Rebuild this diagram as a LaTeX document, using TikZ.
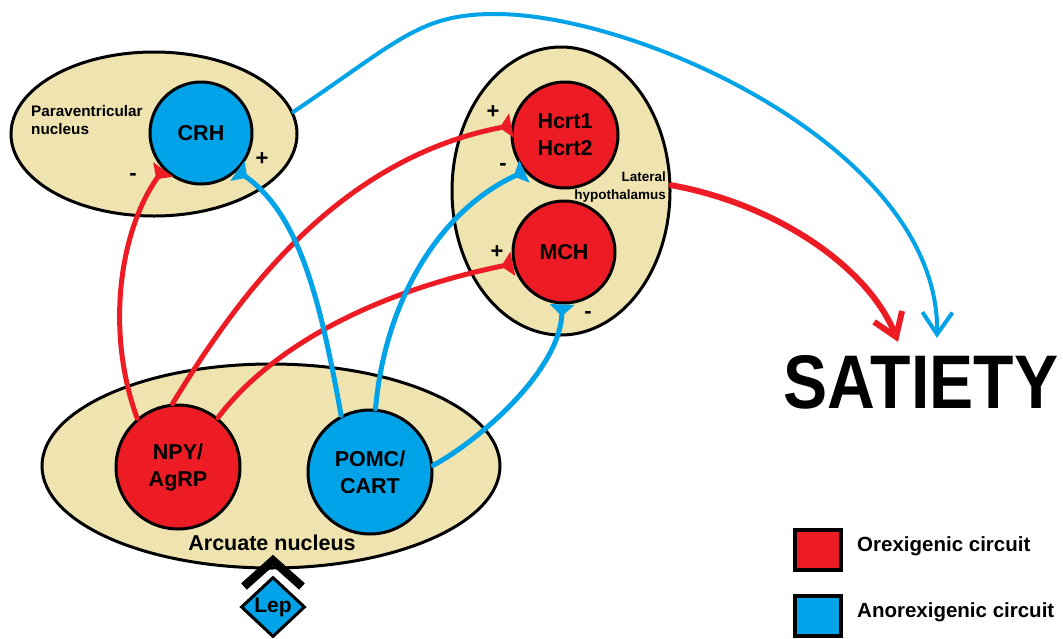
\documentclass[tikz,border=0pt]{standalone}
\usepackage{fontspec}
\setmainfont{Liberation Sans}
\usepackage{graphicx}
\usetikzlibrary{shapes.geometric,arrows.meta}
\definecolor{pred}{HTML}{ED1C24}
\definecolor{pblue}{HTML}{00A2E8}
\definecolor{ptan}{HTML}{EFE4B0}
\begin{document}
\begin{tikzpicture}[x=1pt,y=-1pt,
  region/.style={ellipse, draw=black, fill=ptan, line width=3pt, inner sep=0pt},
  cell/.style={circle, draw=black, line width=3pt, inner sep=0pt, align=center,
    font=\bfseries\fontsize{21.5}{27}\selectfont},
  big/.style={font=\bfseries\fontsize{21.5}{26}\selectfont, inner sep=0pt},
  small/.style={font=\bfseries\fontsize{13.5}{18}\selectfont, inner sep=0pt},
  sign/.style={font=\bfseries\fontsize{22}{24}\selectfont, inner sep=0pt},
  syn/.style={line width=5pt, line cap=round, -{Triangle[reversed, length=12pt, width=24pt]}},
  rsyn/.style={syn, draw=pred},
  bsyn/.style={syn, draw=pblue},
  toout/.style={line cap=round, -{Straight Barb[length=22pt, width=30pt]}},
  legbox/.style={draw=black, line width=4pt, minimum width=46pt, minimum height=40pt, inner sep=0pt},
  legtext/.style={font=\bfseries\fontsize{20.5}{24}\selectfont, inner sep=0pt, anchor=west}
]
\useasboundingbox (0,0) rectangle (1063,638);

% regions
\node[region, minimum width=286pt, minimum height=164pt] (pvn) at (154,134) {};
\node[region, minimum width=218pt, minimum height=288pt] (lh) at (561,191) {};
\node[region, minimum width=458pt, minimum height=204pt] (arc) at (271,466) {};

% cells
\node[cell, fill=pblue, minimum size=102pt] (crh) at (201,133) {CRH};
\node[cell, fill=pred, minimum size=106pt] (hcrt) at (565,135) {Hcrt1\\Hcrt2};
\node[cell, fill=pred, minimum size=102pt] (mch) at (564,252) {MCH};
\node[cell, fill=pred, minimum size=124pt] (npy) at (178,467) {NPY/\\AgRP};
\node[cell, fill=pblue, minimum size=124pt] (pomc) at (370,472) {POMC/\\CART};

% leptin
\node[diamond, draw=black, line width=3pt, fill=pblue, minimum width=64pt, minimum height=60pt,
  inner sep=0pt, font=\bfseries\fontsize{21}{24}\selectfont] (lep) at (273,607) {Lep};
\draw[line width=8.5pt, line join=miter]
  ([shift={(-29,11)}]lep.north) -- ([shift={(0,-15)}]lep.north) -- ([shift={(29,11)}]lep.north);

% region labels
\node[small, anchor=west, align=left, font=\bfseries\fontsize{15.3}{18}\selectfont] (pvnl) at (31,120) {Paraventricular\\nucleus};
\node[small, anchor=east, align=right] (lhl) at (666,187) {Lateral\\hypothalamus};
\node[big] (arcl) at (272,543) {Arcuate nucleus};

% connectors
\draw[rsyn] (npy.130) .. controls (105,330) and (120,230) .. (crh.224);
\draw[rsyn] (npy.95) .. controls (230,310) and (330,160) .. (hcrt.170);
\draw[rsyn] (npy.51) .. controls (265,355) and (360,295) .. (mch.193);
\draw[bsyn] (pomc.117) .. controls (320,300) and (300,215) .. (crh.-46);
\draw[bsyn] (pomc.85) .. controls (385,300) and (440,210) .. (hcrt.222);
\draw[bsyn] (pomc.6) .. controls (480,440) and (560,370) .. (mch.-92);

% satiety
\node[inner sep=0pt, font=\bfseries\fontsize{76}{80}\selectfont] (satiety) at (921,382) {\scalebox{0.87}[1]{SATIETY}};
\draw[toout, draw=pblue, line width=4pt] (pvn.9) .. controls (400,40) and (420,14) .. (495,14)
  .. controls (640,14) and (940,150) .. ([shift={(16,-17)}]satiety.north);
\draw[toout, draw=pred, line width=6pt] (lh.3) .. controls (780,205) and (870,270) .. ([shift={(-23,-13)}]satiety.north);

% signs
\node[sign] (s1) at (133,177) {-};
\node[sign] (s2) at (262,159) {+};
\node[sign] (s3) at (493,112) {+};
\node[sign] (s4) at (503,167) {-};
\node[sign] (s5) at (497,252) {+};
\node[sign] (s6) at (588,315) {-};

% legend
\node[legbox, fill=pred] (lr) at (818,550) {};
\node[legbox, fill=pblue] (lb) at (818,616) {};
\node[legtext] (lrt) at (857,546) {Orexigenic circuit};
\node[legtext] (lbt) at (857,612) {Anorexigenic circuit};
\end{tikzpicture}
\end{document}
